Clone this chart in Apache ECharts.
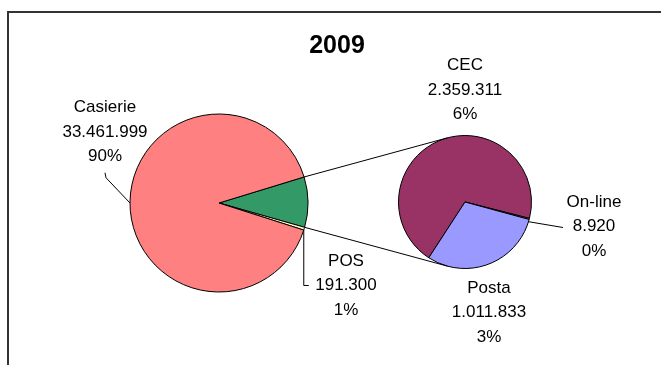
<!DOCTYPE html>
<html>
<head>
<meta charset="utf-8">
<script src="https://cdn.jsdelivr.net/npm/echarts@6/dist/echarts.min.js"></script>
<style>
  html, body { margin: 0; padding: 0; background: #fff; }
  #chart { width: 661px; height: 365px; }
</style>
</head>
<body>
<div id="chart"></div>
<script>
// ---- data ----
const chartTitle = '2009';
const mainNames = ['Casierie', 'POS'];
const mainValues = [33461999, 191300];
const detailNames = ['CEC', 'Posta', 'On-line'];
const detailValues = [2359311, 1011833, 8920];
const otherName = 'Altele';

// ---- styling / layout ----
const FONT = '"Liberation Sans", Arial, sans-serif';
const sliceColors = {
  'Casierie': '#FF8080',
  'POS': '#FFFFCC',
  'Altele': '#339966',
  'CEC': '#993366',
  'Posta': '#9999FF',
  'On-line': '#CCFFCC'
};
const MAIN = { cx: 219, cy: 203, r: 89, start: 17 };
const SUB = { cx: 465, cy: 202, r: 66.5, start: 237 };
const LINE_H = 24.5;
const labelPos = {
  'Casierie': [105, 132],
  'POS': [346, 285.5],
  'CEC': [465, 90],
  'Posta': [489, 312.5],
  'On-line': [594, 226.5]
};

const sum = a => a.reduce((s, v) => s + v, 0);
const detailTotal = sum(detailValues);
const grandTotal = sum(mainValues) + detailTotal;
const fmt = v => String(v).replace(/\B(?=(\d{3})+(?!\d))/g, '.');

// slice order as drawn (clockwise from the start angle)
const mainOrder = [
  { name: otherName, value: detailTotal },
  { name: mainNames[1], value: mainValues[1] },
  { name: mainNames[0], value: mainValues[0] }
];
const subOrder = [
  { name: detailNames[0], value: detailValues[0] },
  { name: detailNames[2], value: detailValues[2] },
  { name: detailNames[1], value: detailValues[1] }
];

// angles (degrees, counter-clockwise from 3 o'clock) of each slice, clockwise sweep
function sliceAngles(items, start) {
  const tot = sum(items.map(d => d.value));
  let a = start;
  const out = {};
  items.forEach(d => {
    const sweep = d.value / tot * 360;
    out[d.name] = [a, a - sweep];
    a -= sweep;
  });
  return out;
}
const mainAng = sliceAngles(mainOrder, MAIN.start);
const subAng = sliceAngles(subOrder, SUB.start);
const onCircle = (c, deg) => {
  const r = deg * Math.PI / 180;
  return [c.cx + c.r * Math.cos(r), c.cy - c.r * Math.sin(r)];
};

// tangent point on circle c seen from point p (side = -1 upper, +1 lower)
function tangent(p, c, side) {
  const dx = c.cx - p[0], dy = c.cy - p[1];
  const d = Math.hypot(dx, dy);
  const theta = Math.atan2(dy, dx);
  const alpha = Math.asin(c.r / d);
  const len = Math.sqrt(d * d - c.r * c.r);
  const dir = theta + side * alpha;
  return [p[0] + len * Math.cos(dir), p[1] + len * Math.sin(dir)];
}

// connector lines between the "other" slice and the detail pie
const otherTop = onCircle(MAIN, mainAng[otherName][0]);
const otherBottom = onCircle(MAIN, mainAng[otherName][1]);
const connTop = tangent(otherTop, SUB, -1);
const connBottom = tangent(otherBottom, SUB, 1);

// leader lines
const casAnchor = onCircle(MAIN, 180);
const casLab = labelPos['Casierie'];
const casTop = casLab[1] + 1.5 * LINE_H + 4;
const posAnchor = onCircle(MAIN, mainAng['POS'][1]);
const posLab = labelPos['POS'];
const onAnchor = onCircle(SUB, subAng['On-line'][1] - 2);
const onLab = labelPos['On-line'];

const lineStyle = { stroke: '#000', lineWidth: 1, fill: null };
const poly = pts => ({ type: 'polyline', silent: true, z: 10, shape: { points: pts }, style: lineStyle });

const labelCommon = {
  show: true,
  position: 'outside',
  fontSize: 17,
  lineHeight: LINE_H,
  fontFamily: FONT,
  color: '#000',
  align: 'center',
  formatter: p => p.name + '\n' + fmt(p.value) + '\n' + Math.round(p.value / grandTotal * 100) + '%'
};

const seriesOrders = [mainOrder, subOrder];
const placeLabel = function (params) {
  const name = seriesOrders[params.seriesIndex][params.dataIndex].name;
  const pos = labelPos[name];
  if (!pos) return {};
  return { x: pos[0], y: pos[1], align: 'center', verticalAlign: 'middle' };
};

const chart = echarts.init(document.getElementById('chart'), null, { renderer: 'canvas' });
chart.setOption({
  animation: false,
  backgroundColor: '#fff',
  title: {
    text: chartTitle,
    left: 337,
    top: 34,
    textAlign: 'center',
    padding: 0,
    textStyle: { fontSize: 25, fontWeight: 'bold', fontFamily: FONT, color: '#000' }
  },
  graphic: [
    { type: 'rect', silent: true, shape: { x: 8, y: 12, width: 700, height: 400 },
      style: { fill: null, stroke: '#333', lineWidth: 2 } },
    poly([otherTop, connTop]),
    poly([otherBottom, connBottom]),
    poly([[casLab[0], casTop], [casLab[0] + 1, casTop + 5], casAnchor]),
    poly([posAnchor, [posAnchor[0], posLab[1]], [posAnchor[0] + 5, posLab[1]]]),
    poly([onAnchor, [onLab[0] - 31, onLab[1] + 1]])
  ],
  series: [
    {
      type: 'pie',
      center: [MAIN.cx, MAIN.cy],
      radius: MAIN.r,
      startAngle: MAIN.start,
      clockwise: true,
      avoidLabelOverlap: false,
      minShowLabelAngle: 0,
      label: labelCommon,
      labelLine: { show: false },
      labelLayout: placeLabel,
      itemStyle: { borderColor: '#000', borderWidth: 1 },
      emphasis: { disabled: true },
      data: mainOrder.map(d => ({
        name: d.name,
        value: d.value,
        itemStyle: { color: sliceColors[d.name] },
        label: { show: d.name !== otherName }
      }))
    },
    {
      type: 'pie',
      center: [SUB.cx, SUB.cy],
      radius: SUB.r,
      startAngle: SUB.start,
      clockwise: true,
      avoidLabelOverlap: false,
      minShowLabelAngle: 0,
      label: labelCommon,
      labelLine: { show: false },
      labelLayout: placeLabel,
      itemStyle: { borderColor: '#000', borderWidth: 1 },
      emphasis: { disabled: true },
      data: subOrder.map(d => ({
        name: d.name,
        value: d.value,
        itemStyle: { color: sliceColors[d.name] }
      }))
    }
  ]
});
</script>
</body>
</html>
